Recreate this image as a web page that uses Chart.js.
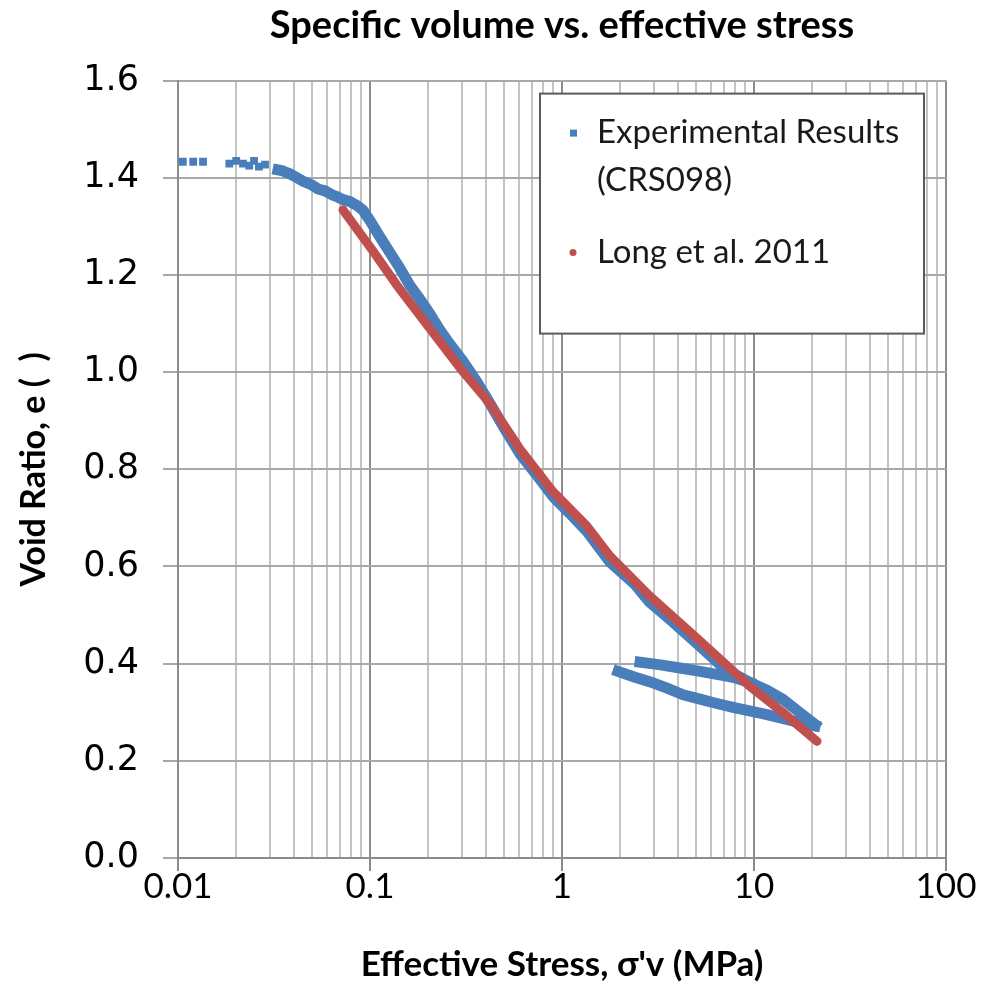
<!DOCTYPE html>
<html>
<head>
<meta charset="utf-8">
<script src="https://cdn.jsdelivr.net/npm/chart.js@4/dist/chart.umd.min.js"></script>
<style>
  html, body { margin: 0; padding: 0; background: #fff; }
</style>
</head>
<body>
<canvas id="chart" width="982" height="991"></canvas>
<script>
// Experimental results (CRS098) - scattered points at low stress
const expSparseStress = [0.0106, 0.0120, 0.0135, 0.0185, 0.0201, 0.0218, 0.0235, 0.0249, 0.0264, 0.0284];
const expSparseVoid   = [1.433, 1.433, 1.433, 1.429, 1.435, 1.429, 1.425, 1.435, 1.423, 1.427];

// Experimental results - loading curve (dense)
const expLoadStress = [0.0332, 0.0352, 0.0383, 0.0417, 0.0448, 0.0499, 0.0536, 0.0583, 0.0634, 0.0673,
  0.0723, 0.0786, 0.0856, 0.092, 0.100, 0.112, 0.127, 0.143, 0.161, 0.182, 0.205, 0.230, 0.26, 0.305,
  0.36, 0.422, 0.50, 0.604, 0.75, 0.898, 1.1, 1.35, 1.78, 2.4, 2.87, 3.8, 5.23, 7.0, 9.53, 11.7, 14.2, 17.1, 20.8];
const expLoadVoid = [1.416, 1.414, 1.408, 1.400, 1.393, 1.385, 1.377, 1.373, 1.365, 1.361,
  1.355, 1.351, 1.343, 1.333, 1.312, 1.280, 1.246, 1.214, 1.179, 1.150, 1.120, 1.088, 1.058, 1.022,
  0.980, 0.935, 0.885, 0.832, 0.785, 0.744, 0.709, 0.672, 0.609, 0.563, 0.526, 0.485, 0.436, 0.390, 0.361, 0.345, 0.326, 0.301, 0.275];

// Experimental results - unloading (lower branch)
const expUnloadStress = [20.8, 17.1, 11.7, 7.78, 6.4, 5.23, 4.27, 3.5, 3.0, 2.4, 1.96];
const expUnloadVoid   = [0.272, 0.279, 0.295, 0.310, 0.318, 0.327, 0.336, 0.350, 0.360, 0.372, 0.384];

// Experimental results - reloading (upper branch)
const expReloadStress = [2.55, 3.2, 4.27, 5.23, 6.4, 7.78, 9.53];
const expReloadVoid   = [0.403, 0.398, 0.390, 0.384, 0.378, 0.372, 0.361];

// Long et al. 2011
const longStress = [0.0723, 0.1037, 0.138, 0.205, 0.305, 0.422, 0.604, 0.898, 1.35, 1.78, 2.87, 5.23, 9.53, 14.2, 21.3];
const longVoid   = [1.334, 1.249, 1.179, 1.090, 1.001, 0.935, 0.842, 0.754, 0.683, 0.621, 0.539, 0.447, 0.353, 0.299, 0.240];

// axes
const xDecades = [0.01, 0.1, 1, 10, 100];
const xTickLabels = ['0.01', '0.1', '1', '10', '100'];
const yTicks = [0, 0.2, 0.4, 0.6, 0.8, 1.0, 1.2, 1.4, 1.6];

const legendLabels = [['Experimental Results', '(CRS098)'], ['Long et al. 2011']];

const BLUE = '#4a7ebb';
const RED = '#c0504d';

function pts(xs, ys) {
  return xs.map((x, i) => ({ x: x, y: ys[i] }));
}

function isDecade(v) {
  const l = Math.log10(v);
  return Math.abs(l - Math.round(l)) < 1e-6;
}

// легенда в рамке внутри области графика
const legendBox = {
  id: 'legendBox',
  afterDraw(chart) {
    const { ctx, chartArea } = chart;
    const bx = chartArea.left + 362, by = chartArea.top + 13, bw = 384, bh = 240;
    ctx.save();
    ctx.fillStyle = '#fff';
    ctx.fillRect(bx, by, bw, bh);
    ctx.strokeStyle = '#5a5a5a';
    ctx.lineWidth = 2;
    ctx.strokeRect(bx, by, bw, bh);

    ctx.font = '33px Lato';
    ctx.textBaseline = 'middle';
    ctx.textAlign = 'left';

    // entry 1
    ctx.fillStyle = BLUE;
    ctx.fillRect(bx + 30, by + 36, 7, 7);
    ctx.fillStyle = '#1a1a1a';
    ctx.fillText(legendLabels[0][0], bx + 57, by + 39);
    ctx.fillText(legendLabels[0][1], bx + 57, by + 87);

    // entry 2
    ctx.fillStyle = RED;
    ctx.beginPath();
    ctx.arc(bx + 33, by + 159, 3.5, 0, Math.PI * 2);
    ctx.fill();
    ctx.fillStyle = '#1a1a1a';
    ctx.fillText(legendLabels[1][0], bx + 57, by + 159);
    ctx.restore();
  }
};

const blueLine = {
  showLine: true,
  borderColor: BLUE,
  backgroundColor: BLUE,
  borderWidth: 11,
  borderJoinStyle: 'round',
  borderCapStyle: 'square',
  pointRadius: 0,
  order: 1
};

const ctx = document.getElementById('chart').getContext('2d');
new Chart(ctx, {
  type: 'scatter',
  data: {
    datasets: [
      {
        label: 'Long et al. 2011',
        data: pts(longStress, longVoid),
        showLine: true,
        borderColor: RED,
        backgroundColor: RED,
        borderWidth: 9,
        borderCapStyle: 'round',
        borderJoinStyle: 'round',
        pointRadius: 0,
        order: 0
      },
      {
        label: 'Experimental Results (CRS098)',
        data: pts(expSparseStress, expSparseVoid),
        showLine: false,
        pointStyle: 'rect',
        pointRadius: 5.5,
        pointBorderWidth: 0,
        backgroundColor: BLUE,
        borderColor: BLUE,
        order: 1
      },
      Object.assign({ label: 'load', data: pts(expLoadStress, expLoadVoid) }, blueLine),
      Object.assign({ label: 'unload', data: pts(expUnloadStress, expUnloadVoid) }, blueLine),
      Object.assign({ label: 'reload', data: pts(expReloadStress, expReloadVoid) }, blueLine)
    ]
  },
  options: {
    responsive: false,
    animation: false,
    layout: { padding: { left: 0, right: 36, top: 0, bottom: 0 } },
    plugins: {
      legend: { display: false },
      tooltip: { enabled: false },
      title: {
        display: true,
        fullSize: false,
        text: 'Specific volume vs. effective stress',
        color: '#000',
        font: { family: 'Lato', size: 38, weight: 'bold' },
        padding: { top: 3, bottom: 32 }
      }
    },
    scales: {
      x: {
        type: 'logarithmic',
        min: 0.01,
        max: 100,
        afterBuildTicks: (scale) => {
          const t = [];
          for (let i = 0; i < xDecades.length - 1; i++) {
            for (let m = 1; m < 10; m++) t.push({ value: xDecades[i] * m });
          }
          t.push({ value: xDecades[xDecades.length - 1] });
          scale.ticks = t;
        },
        afterFit: (scale) => { scale.height = 133; },
        ticks: {
          autoSkip: false,
          maxRotation: 0,
          color: '#000',
          font: { family: 'Lato', size: 35 },
          padding: -5,
          callback: (v) => {
            const i = xDecades.findIndex(d => Math.abs(d - v) / d < 1e-6);
            return i >= 0 ? xTickLabels[i] : '';
          }
        },
        grid: {
          color: (c) => (c.tick && isDecade(c.tick.value)) ? '#8c8c8c' : '#c4c4c4',
          lineWidth: 2,
          tickLength: 13,
          tickColor: (c) => (c.tick && isDecade(c.tick.value)) ? '#8c8c8c' : 'rgba(0,0,0,0)'
        },
        border: { display: true, color: '#8c8c8c', width: 2 },
        title: {
          display: true,
          text: "Effective Stress, σ'v (MPa)",
          color: '#000',
          font: { family: 'Lato', size: 35, weight: 'bold' },
          padding: { top: 0, bottom: 5 }
        }
      },
      y: {
        min: 0,
        max: 1.6,
        afterBuildTicks: (scale) => { scale.ticks = yTicks.map(v => ({ value: v })); },
        afterFit: (scale) => { scale.width = 178; },
        ticks: {
          color: '#000',
          font: { family: 'DejaVu Sans', size: 35 },
          padding: 24,
          callback: (v) => Number(v).toFixed(1)
        },
        grid: {
          color: '#a8a8a8',
          lineWidth: 2,
          tickLength: 15
        },
        border: { display: true, color: '#8c8c8c', width: 2 },
        title: {
          display: true,
          text: 'Void Ratio, e (  )',
          color: '#000',
          font: { family: 'Lato', size: 34, weight: 'bold' },
          padding: { top: 14, bottom: 0 }
        }
      }
    }
  },
  plugins: [legendBox]
});
</script>
</body>
</html>
